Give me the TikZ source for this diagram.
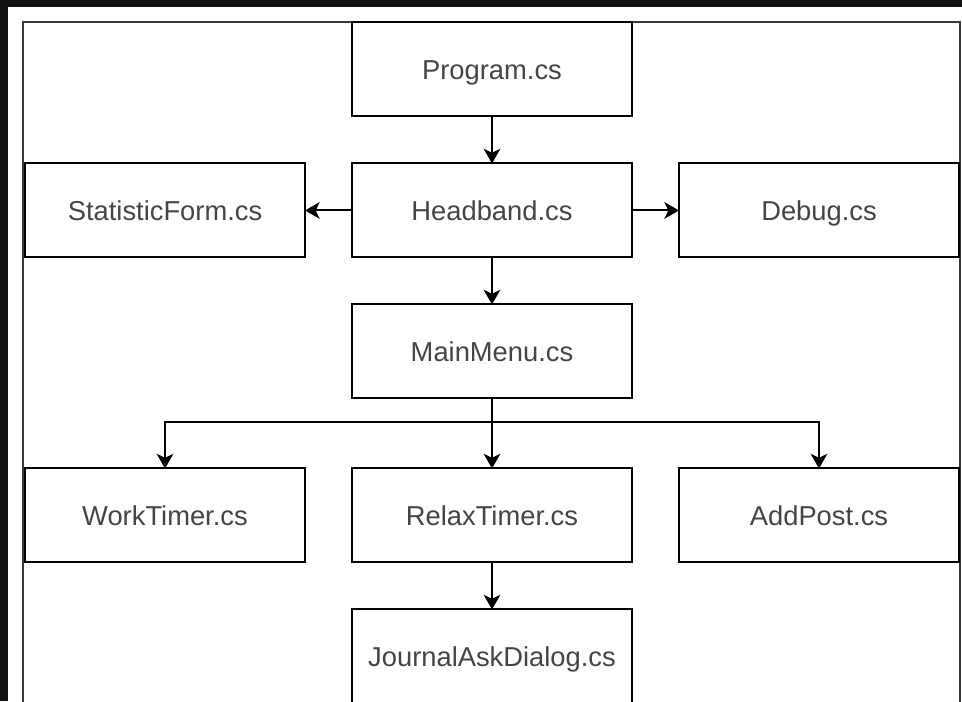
\documentclass[tikz,border=0pt]{standalone}
\usepackage{fontspec}
\setmainfont{Liberation Sans}
\usepackage{xcolor}
\usepackage{tikz}
\usetikzlibrary{arrows.meta, positioning}
\definecolor{framegray}{HTML}{3A3A3A}
\definecolor{labelgray}{HTML}{454545}

\begin{document}
\begin{tikzpicture}[
  node distance=35.25pt,
  filebox/.style={rectangle, draw=black, line width=1.5pt, fill=white, minimum width=210pt, minimum height=70.5pt, outer sep=0pt, inner sep=0pt, text height=14.7pt, text depth=0pt, text=labelgray, font=\fontsize{20.5pt}{24pt}\selectfont},
  link/.style={line width=1.5pt, -{Stealth[length=11pt, width=12.5pt, inset=3pt]}}
]
  \useasboundingbox (0,0) rectangle (721.5pt,-525.75pt);
  \fill[black!93] (0,0) rectangle (721.5pt,-525.75pt);
  \fill[white] (6pt,-5.25pt) rectangle (721.5pt,-525.75pt);
  \draw[framegray, line width=1.5pt] (17.25pt,-16.5pt) rectangle (720pt,-540pt);

  \node[filebox] (prog) at (369pt,-52.1pt) {Program.cs};
  \node[filebox, below=of prog] (head) {Headband.cs};
  \node[filebox, left=of head] (stat) {StatisticForm.cs};
  \node[filebox, right=of head] (debug) {Debug.cs};
  \node[filebox, below=of head] (menu) {MainMenu.cs};
  \node[filebox, below=52.5pt of menu] (relax) {RelaxTimer.cs};
  \node[filebox, left=of relax] (work) {WorkTimer.cs};
  \node[filebox, right=of relax] (addpost) {AddPost.cs};
  \node[filebox, below=of relax] (journal) {JournalAskDialog.cs};

  \draw[link] (prog) -- (head);
  \draw[link] (head) -- (stat);
  \draw[link] (head) -- (debug);
  \draw[link] (head) -- (menu);
  \draw[line width=1.5pt] (menu.south) -- ++(0,-17.6pt) coordinate (fork);
  \draw[link] (fork) -| (work.north);
  \draw[link] (fork) -| (addpost.north);
  \draw[link] (menu) -- (relax);
  \draw[link] (relax) -- (journal);
\end{tikzpicture}
\end{document}
